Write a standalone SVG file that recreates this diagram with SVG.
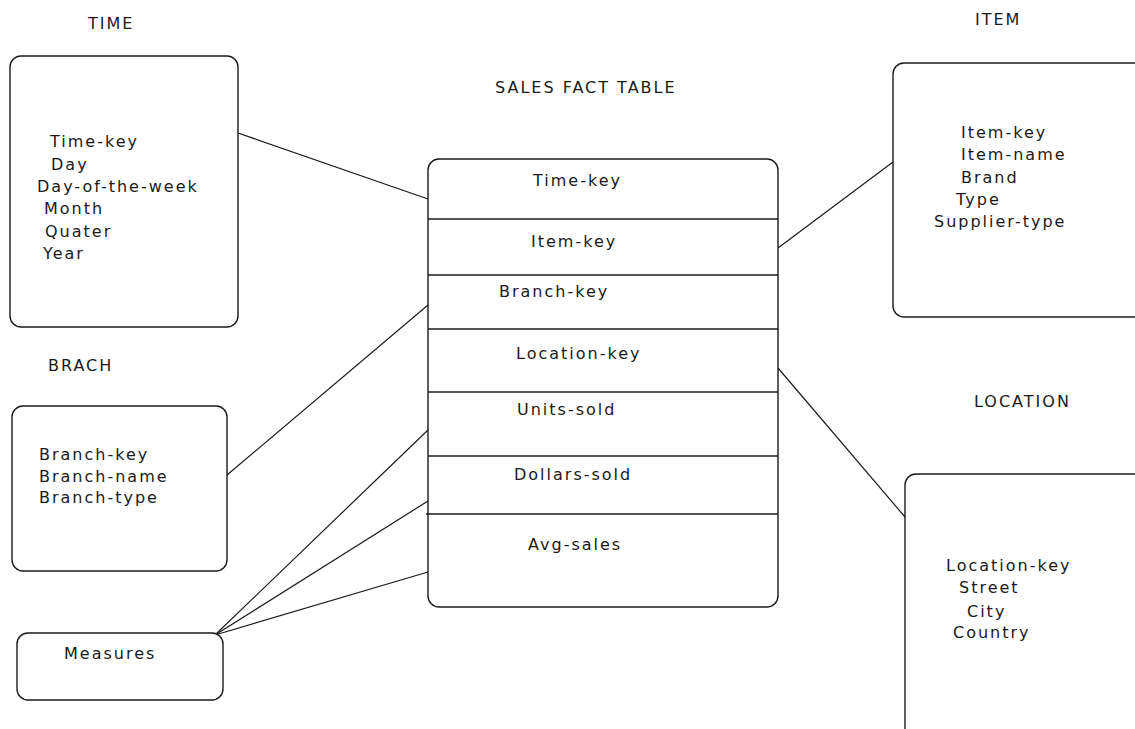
<svg xmlns="http://www.w3.org/2000/svg" width="1135" height="729" viewBox="0 0 1135 729">
  <style>
    .box { fill: #ffffff; stroke: #1a1a1a; stroke-width: 1.4; }
    .div { stroke: #1a1a1a; stroke-width: 1.4; }
    .link { stroke: #1a1a1a; stroke-width: 1.2; fill: none; }
    text { font-family: "DejaVu Sans", "Verdana", sans-serif; font-size: 16px; letter-spacing: 2px; fill: #1a1a1a; }
  </style>
  <rect width="1135" height="729" fill="#ffffff"/>

  <!-- Titles -->
  <g id="titles">
    <text x="88" y="29">TIME</text>
    <text x="495" y="93">SALES FACT TABLE</text>
    <text x="975" y="25">ITEM</text>
    <text x="48" y="371">BRACH</text>
    <text x="974" y="407">LOCATION</text>
  </g>

  <!-- Connectors -->
  <g id="connectors">
    <line class="link" x1="238" y1="133" x2="428" y2="199"/>
    <line class="link" x1="227" y1="475" x2="428" y2="305"/>
    <line class="link" x1="215" y1="635" x2="428" y2="430"/>
    <line class="link" x1="215" y1="635" x2="428" y2="501"/>
    <line class="link" x1="215" y1="635" x2="428" y2="572"/>
    <line class="link" x1="778" y1="248" x2="893" y2="162"/>
    <line class="link" x1="778" y1="368" x2="905" y2="517"/>
  </g>

  <!-- TIME dimension -->
  <g id="time">
    <rect class="box" x="10" y="56" width="228" height="271" rx="11"/>
    <text x="50" y="147">Time-key</text>
    <text x="51" y="170">Day</text>
    <text x="37" y="192">Day-of-the-week</text>
    <text x="44" y="214">Month</text>
    <text x="45" y="237">Quater</text>
    <text x="43" y="259">Year</text>
  </g>

  <!-- BRANCH dimension -->
  <g id="branch">
    <rect class="box" x="12" y="406" width="215" height="165" rx="11"/>
    <text x="39" y="460">Branch-key</text>
    <text x="39" y="482">Branch-name</text>
    <text x="39" y="503">Branch-type</text>
  </g>

  <!-- Measures -->
  <g id="measures">
    <rect class="box" x="17" y="633" width="206" height="67" rx="11"/>
    <text x="64" y="659">Measures</text>
  </g>

  <!-- Sales fact table -->
  <g id="sales-fact">
    <rect class="box" x="428" y="159" width="350" height="448" rx="11"/>
    <line class="div" x1="428" y1="219" x2="778" y2="219"/>
    <line class="div" x1="428" y1="275" x2="778" y2="275"/>
    <line class="div" x1="428" y1="329" x2="778" y2="329"/>
    <line class="div" x1="428" y1="392" x2="778" y2="392"/>
    <line class="div" x1="428" y1="456" x2="778" y2="456"/>
    <line class="div" x1="426" y1="514" x2="778" y2="514"/>
    <text x="533" y="186">Time-key</text>
    <text x="531" y="247">Item-key</text>
    <text x="499" y="297">Branch-key</text>
    <text x="516" y="359">Location-key</text>
    <text x="517" y="415">Units-sold</text>
    <text x="514" y="480">Dollars-sold</text>
    <text x="528" y="550">Avg-sales</text>
  </g>

  <!-- ITEM dimension -->
  <g id="item">
    <rect class="box" x="893" y="63" width="270" height="254" rx="11"/>
    <text x="961" y="138">Item-key</text>
    <text x="961" y="160">Item-name</text>
    <text x="961" y="183">Brand</text>
    <text x="956" y="205">Type</text>
    <text x="934" y="227">Supplier-type</text>
  </g>

  <!-- LOCATION dimension -->
  <g id="location">
    <rect class="box" x="905" y="474" width="260" height="290" rx="11"/>
    <text x="946" y="571">Location-key</text>
    <text x="959" y="593">Street</text>
    <text x="967" y="617">City</text>
    <text x="953" y="638">Country</text>
  </g>
</svg>
